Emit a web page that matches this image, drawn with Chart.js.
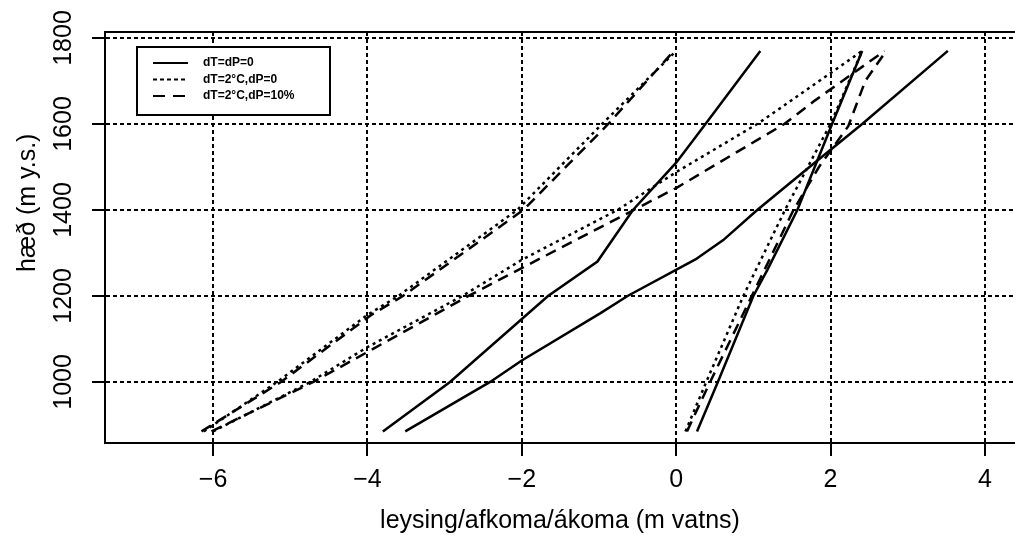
<!DOCTYPE html>
<html>
<head>
<meta charset="utf-8">
<script src="https://cdn.jsdelivr.net/npm/chart.js"></script>
<style>
  body { margin: 0; background: #fff; }
</style>
</head>
<body>
<canvas id="myChart" width="1015" height="548"></canvas>
<script>
var xTicks = [-6, -4, -2, 0, 2, 4];
var yTicks = [1000, 1200, 1400, 1600, 1800];
var scenarios = ["dT=dP=0", "dT=2°C,dP=0", "dT=2°C,dP=10%"];

// dT=dP=0  (b = m vatns, h = m y.s.)
var s0LeftB  = [-3.80, -2.93, -1.66, -1.02, -0.56, 0.00, 0.38, 1.09];
var s0LeftH  = [885, 1000, 1200, 1280, 1400, 1510, 1600, 1770];
var s0MidB   = [-3.51, -2.41, -2.00, -0.98, -0.63, 0.25, 0.61, 1.05, 1.83, 2.41, 3.52];
var s0MidH   = [885, 1000, 1050, 1160, 1200, 1285, 1330, 1400, 1515, 1600, 1770];
var s0RightB = [0.27, 0.54, 1.00, 1.18, 1.57, 2.02, 2.41];
var s0RightH = [885, 1000, 1200, 1260, 1400, 1600, 1770];

// dT=2°C, dP=0
var s1LeftB  = [-6.12, -5.17, -4.00, -3.60, -2.06, -0.96, 0.00];
var s1LeftH  = [885, 1000, 1156, 1200, 1400, 1600, 1770];
var s1MidB   = [-6.00, -4.74, -4.00, -2.77, -2.00, -0.76, 0.00, 1.05, 1.35, 2.41];
var s1MidH   = [885, 1000, 1081, 1200, 1284, 1400, 1488, 1600, 1637, 1770];
var s1RightB = [0.12, 0.39, 0.87, 1.41, 2.00, 2.41];
var s1RightH = [885, 1000, 1200, 1400, 1600, 1770];

// dT=2°C, dP=10%
var s2LeftB  = [-6.15, -5.12, -3.95, -3.54, -1.98, -0.88, -0.03];
var s2LeftH  = [885, 1000, 1156, 1200, 1400, 1600, 1770];
var s2MidB   = [-6.02, -4.70, -2.69, -2.00, -0.55, 0.00, 1.40, 1.80, 2.70];
var s2MidH   = [885, 1000, 1200, 1265, 1400, 1451, 1600, 1655, 1770];
var s2RightB = [0.14, 0.44, 0.98, 1.52, 1.85, 2.23, 2.45, 2.72];
var s2RightH = [885, 1000, 1200, 1400, 1500, 1595, 1700, 1770];

var dashes = [[], [3, 4], [11, 7]];
var legendDashes = [[], [4, 3], [12, 8]];
var font = "'Liberation Sans', Arial, sans-serif";

function pts(b, h) {
  return b.map(function (v, i) { return {x: v, y: h[i]}; });
}
function line(b, h, s) {
  return {
    label: scenarios[s],
    data: pts(b, h),
    showLine: true,
    borderColor: "#000",
    borderWidth: 2.5,
    borderDash: dashes[s],
    pointRadius: 0,
    tension: 0
  };
}

// frame top edge and the boxed legend inside the plot
var framePlugin = {
  id: "frame",
  afterDatasetsDraw: function (chart) {
    var ctx = chart.ctx, a = chart.chartArea;
    ctx.save();
    ctx.strokeStyle = "#000";
    ctx.lineWidth = 2;
    ctx.beginPath();
    ctx.moveTo(a.left - 1, a.top);
    ctx.lineTo(a.right, a.top);
    ctx.stroke();

    var bx = a.left + 32, by = a.top + 15, bw = 193, bh = 68;
    ctx.fillStyle = "#fff";
    ctx.fillRect(bx, by, bw, bh);
    ctx.strokeRect(bx, by, bw, bh);
    ctx.font = "bold 12px " + font;
    ctx.textBaseline = "middle";
    ctx.fillStyle = "#000";
    for (var i = 0; i < scenarios.length; i++) {
      var ly = by + 16 + i * 16.5;
      ctx.setLineDash(legendDashes[i]);
      ctx.lineWidth = 2;
      ctx.beginPath();
      ctx.moveTo(bx + 16, ly);
      ctx.lineTo(bx + 51, ly);
      ctx.stroke();
      ctx.setLineDash([]);
      ctx.fillText(scenarios[i], bx + 66, ly);
    }
    ctx.restore();
  }
};

new Chart("myChart", {
  type: "scatter",
  data: {
    datasets: [
      line(s0LeftB, s0LeftH, 0), line(s0MidB, s0MidH, 0), line(s0RightB, s0RightH, 0),
      line(s1LeftB, s1LeftH, 1), line(s1MidB, s1MidH, 1), line(s1RightB, s1RightH, 1),
      line(s2LeftB, s2LeftH, 2), line(s2MidB, s2MidH, 2), line(s2RightB, s2RightH, 2)
    ]
  },
  options: {
    responsive: false,
    animation: false,
    layout: {padding: {top: 32, right: 0, left: 0, bottom: 0}},
    plugins: {legend: {display: false}, tooltip: {enabled: false}},
    scales: {
      x: {
        type: "linear",
        min: -7.4,
        max: 4.39,
        afterBuildTicks: function (s) { s.ticks = xTicks.map(function (v) { return {value: v}; }); },
        afterFit: function (s) { s.height = 105; },
        grid: {color: "#000", lineWidth: 2, tickLength: 13, tickColor: "#000", tickWidth: 2, tickBorderDash: []},
        border: {display: true, color: "#000", width: 2, dash: [4, 3]},
        ticks: {
          color: "#000", padding: 9, maxRotation: 0, autoSkip: false,
          font: {family: font, size: 25},
          callback: function (v) { return v < 0 ? "\u2212" + Math.abs(v) : String(v); }
        },
        title: {display: true, text: "leysing/afkoma/ákoma (m vatns)", color: "#000",
                font: {family: font, size: 25}, padding: {top: 0, bottom: 12}}
      },
      y: {
        type: "linear",
        min: 858,
        max: 1814,
        afterBuildTicks: function (s) { s.ticks = yTicks.map(function (v) { return {value: v}; }); },
        afterFit: function (s) { s.width = 105; },
        grid: {color: "#000", lineWidth: 2, tickLength: 13, tickColor: "#000", tickWidth: 2, tickBorderDash: []},
        border: {display: true, color: "#000", width: 2, dash: [4, 3]},
        ticks: {
          color: "#000", padding: 0, minRotation: 90, maxRotation: 90, crossAlign: "center", autoSkip: false,
          font: {family: font, size: 25},
          callback: function (v) { return String(v); }
        },
        title: {display: true, text: "          hæð (m y.s.)", color: "#000",
                font: {family: font, size: 25}, padding: {top: 13, bottom: 0}}
      }
    }
  },
  plugins: [framePlugin]
});
</script>
</body>
</html>
